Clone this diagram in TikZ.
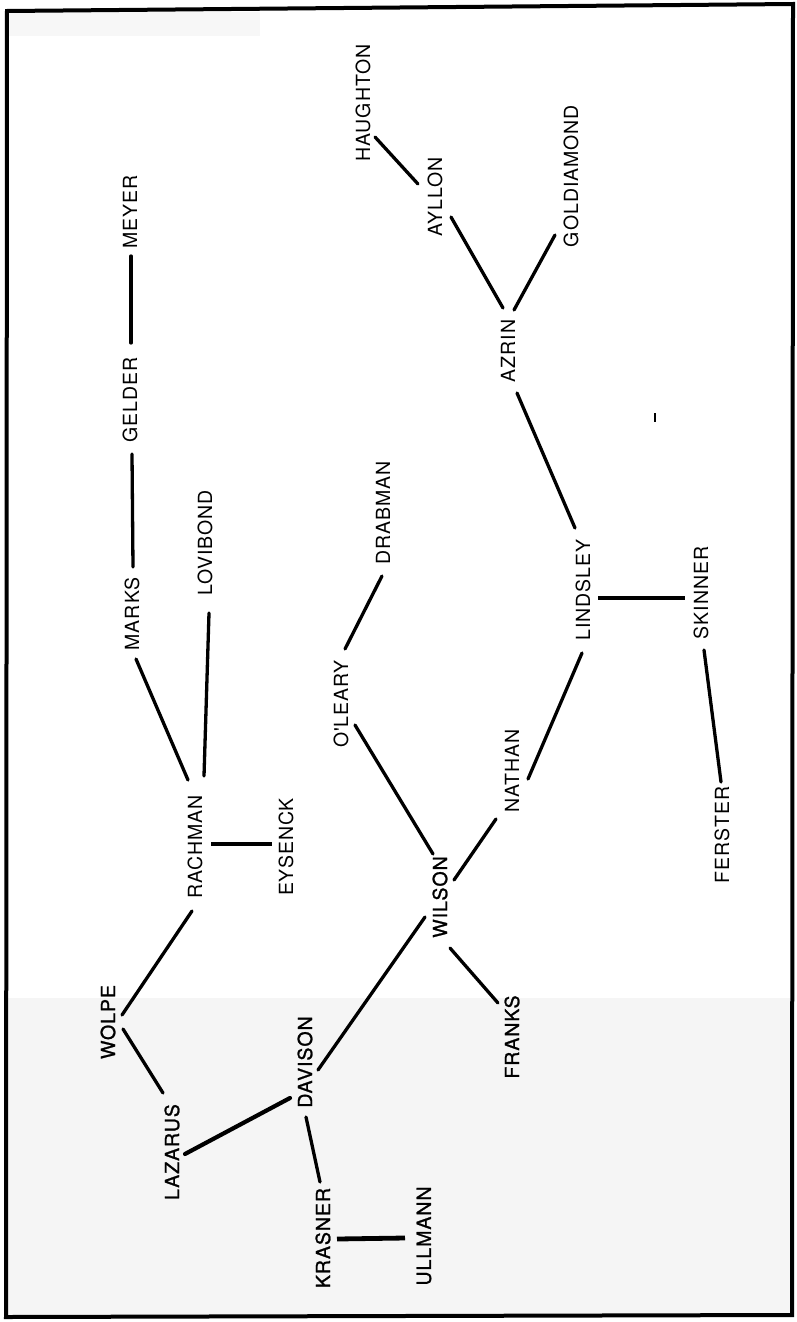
\documentclass[tikz,border=0pt]{standalone}
\usepackage{fontspec}
\newfontfamily\labfont{TeX Gyre Heros}[LetterSpace=5]
\newfontfamily\darkfont{TeX Gyre Heros}[LetterSpace=5,FakeBold=1.2]
\usetikzlibrary{calc}
\tikzset{
  lab/.style={rotate=90,inner sep=0pt,outer sep=0pt,anchor=center,font=\labfont\fontsize{19.5}{20}\selectfont},
  darklab/.style={lab,font=\darkfont\fontsize{19.5}{20}\selectfont},
  link/.style={line width=3.3pt,line cap=round},
  thicklink/.style={line width=4.8pt,line cap=butt},
}
\begin{document}
\begin{tikzpicture}[x=1pt,y=-1pt]
\useasboundingbox (0,0) rectangle (797,1322);
% scan tint (bleed-through areas)
\fill[black!4] (8,998) rectangle (791,1315);
\fill[black!3] (9,12) rectangle (260,36);
% frame
\draw[line width=4pt,line join=miter] (7,11) -- (793,4) -- (792,1315) -- (6,1317) -- cycle;
% nodes
\node[lab] (haughton) at (363,103) {HAUGHTON};
\node[lab] (ayllon) at (435,197) {AYLLON};
\node[lab] (goldiamond) at (571,176) {GOLDIAMOND};
\node[lab] (meyer) at (130,212) {MEYER};
\node[lab] (gelder) at (130,400) {GELDER};
\node[lab] (azrin) at (508,351) {AZRIN};
\node[lab] (marks) at (132,614) {MARKS};
\node[lab] (lovibond) at (205,543) {LOVIBOND};
\node[lab] (rachman) at (195,847) {RACHMAN};
\node[lab] (eysenck) at (286,847) {EYSENCK};
\node[lab] (oleary) at (341,704) {O'LEARY};
\node[lab] (drabman) at (383,513) {DRABMAN};
\node[lab] (lindsley) at (583,590) {LINDSLEY};
\node[lab] (skinner) at (701,593) {SKINNER};
\node[lab] (nathan) at (512,771) {NATHAN};
\node[lab] (ferster) at (722,835) {FERSTER};
\node[darklab] (wilson) at (440,897) {WILSON};
\node[darklab] (wolpe) at (108,1022) {WOLPE};
\node[darklab] (lazarus) at (172,1152) {LAZARUS};
\node[darklab] (davison) at (305,1062) {DAVISON};
\node[darklab] (krasner) at (323,1238) {KRASNER};
\node[darklab] (ullmann) at (424,1236) {ULLMANN};
\node[darklab] (franks) at (512,1037) {FRANKS};
% connectors
\draw[link] ($(haughton)+(12,34)$) -- ($(ayllon)+(-17,-13)$);
\draw[link] ($(ayllon)+(16,20)$) -- ($(azrin)+(-5,-43)$);
\draw[link] ($(goldiamond)+(-16,59)$) -- ($(azrin)+(6,-41)$);
\draw[link] ($(meyer)+(1,44)$) -- ($(gelder)+(1,-57)$);
\draw[link] ($(gelder)+(2,54)$) -- ($(marks)+(1,-47)$);
\draw[link] ($(marks)+(4,45)$) -- ($(rachman)+(-7,-67)$);
\draw[link] ($(lovibond)+(4,70)$) -- ($(rachman)+(9,-71)$);
\draw[thicklink] ($(rachman)+(16,-3)$) -- ($(eysenck)+(-14,-3)$);
\draw[link] ($(rachman)+(-3,64)$) -- ($(wolpe)+(14,-7)$);
\draw[link] ($(wolpe)+(15,7)$) -- ($(lazarus)+(-9,-59)$);
\draw[link,line width=4.2pt] ($(lazarus)+(13,2)$) -- ($(davison)+(-15,36)$);
\draw[link] ($(davison)+(13,8)$) -- ($(wilson)+(-15,20)$);
\draw[link] ($(davison)+(1,55)$) -- ($(krasner)+(-3,-56)$);
\draw[thicklink] ($(krasner)+(14,1)$) -- ($(ullmann)+(-19,2)$);
\draw[link] ($(wilson)+(10,51)$) -- ($(franks)+(-14,-34)$);
\draw[link] ($(wilson)+(-7,-43)$) -- ($(oleary)+(14,21)$);
\draw[link] ($(oleary)+(4,-55)$) -- ($(drabman)+(-1,63)$);
\draw[link] ($(wilson)+(14,-17)$) -- ($(nathan)+(-16,48)$);
\draw[link] ($(nathan)+(16,8)$) -- ($(lindsley)+(-1,63)$);
\draw[link] ($(lindsley)+(-8,-62)$) -- ($(azrin)+(9,42)$);
\draw[thicklink] ($(lindsley)+(15,8)$) -- ($(skinner)+(-16,5)$);
\draw[link] ($(skinner)+(3,57)$) -- ($(ferster)+(-1,-53)$);
% scan speck
\draw[line width=1.5pt] (655,413) -- (655,422);
\end{tikzpicture}
\end{document}
